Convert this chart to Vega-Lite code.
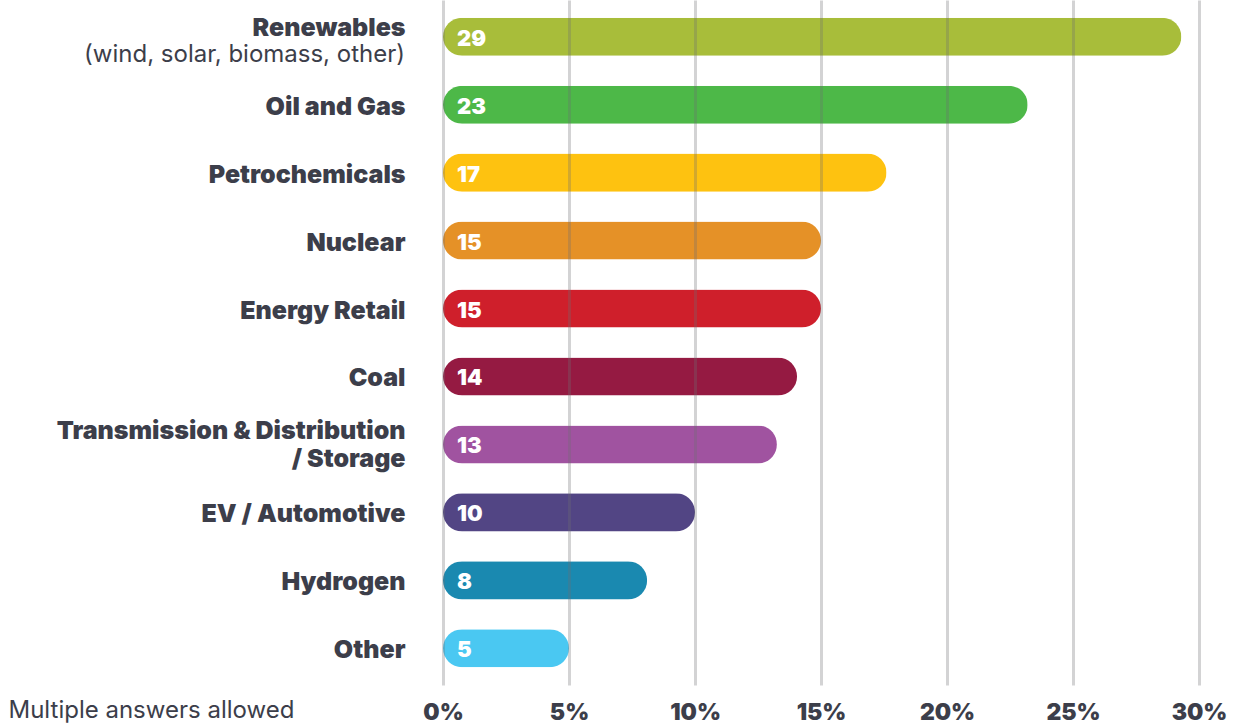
{
  "$schema": "https://vega.github.io/schema/vega-lite/v6.json",
  "width": 756,
  "height": 685,
  "autosize": "none",
  "padding": {"left": 443, "top": 0, "right": 34, "bottom": 40},
  "background": "white",
  "config": {"view": {"stroke": null}, "font": "Inter"},
  "data": {
    "values": [
      {"category": "Renewables", "value": 29.3, "label": "29", "sub": "(wind, solar, biomass, other)"},
      {"category": "Oil and Gas", "value": 23.2, "label": "23", "sub": ""},
      {"category": "Petrochemicals", "value": 17.6, "label": "17", "sub": ""},
      {"category": "Nuclear", "value": 15.0, "label": "15", "sub": ""},
      {"category": "Energy Retail", "value": 15.0, "label": "15", "sub": ""},
      {"category": "Coal", "value": 14.05, "label": "14", "sub": ""},
      {"category": "Transmission & Distribution / Storage", "value": 13.25, "label": "13", "sub": ""},
      {"category": "EV / Automotive", "value": 10.0, "label": "10", "sub": ""},
      {"category": "Hydrogen", "value": 8.1, "label": "8", "sub": ""},
      {"category": "Other", "value": 5.0, "label": "5", "sub": ""}
    ]
  },
  "encoding": {
    "y": {
      "field": "category",
      "type": "nominal",
      "sort": null,
      "scale": {"paddingInner": 0.44, "paddingOuter": 0.26},
      "axis": {
        "title": null,
        "domain": false,
        "ticks": false,
        "grid": false,
        "labelPadding": 38,
        "labelFont": "Inter",
        "labelFontSize": 25,
        "labelFontWeight": 900,
        "labelColor": "#3c3e4a",
        "labelLimit": 600,
        "labelLineHeight": 28,
        "labelOffset": {"condition": [
          {"test": "datum.value == 'Renewables'", "value": -9},
          {"test": "datum.value == 'Transmission & Distribution / Storage'", "value": -13}
        ], "value": 2},
        "labelExpr": "datum.value == 'Transmission & Distribution / Storage' ? ['Transmission & Distribution', '/ Storage'] : datum.value"
      }
    }
  },
  "layer": [
    {
      "mark": {"type": "bar", "cornerRadius": 19},
      "encoding": {
        "x": {
          "field": "value",
          "type": "quantitative",
          "scale": {"domain": [0, 30], "nice": false},
          "axis": {
            "title": "Multiple answers allowed",
            "titleX": -435,
            "titleY": 25,
            "titleAlign": "left",
            "titleAnchor": "start",
            "titleBaseline": "middle",
            "titleFont": "Inter",
            "titleFontSize": 24,
            "titleFontWeight": 400,
            "titleColor": "#3c3e4a",
            "values": [0, 5, 10, 15, 20, 25, 30],
            "labelExpr": "datum.value + '%'",
            "labelFlush": false,
            "labelBaseline": "middle",
            "labelPadding": 27,
            "labelFont": "Inter",
            "labelFontSize": 23,
            "labelFontWeight": 900,
            "labelColor": "#3c3e4a",
            "domain": false,
            "ticks": false,
            "grid": true,
            "gridColor": "#6d6e71",
            "gridOpacity": 0.3,
            "gridWidth": 3,
            "zindex": 1
          }
        },
        "color": {
          "field": "category",
          "type": "nominal",
          "legend": null,
          "scale": {
            "domain": ["Renewables", "Oil and Gas", "Petrochemicals", "Nuclear", "Energy Retail", "Coal", "Transmission & Distribution / Storage", "EV / Automotive", "Hydrogen", "Other"],
            "range": ["#a8bd3a", "#4db848", "#fec210", "#e59127", "#cf1f2b", "#951a42", "#a053a0", "#524584", "#1a89b0", "#4ac8f2"]
          }
        }
      }
    },
    {
      "mark": {"type": "text", "align": "left", "baseline": "middle", "dx": 14, "dy": 2, "color": "white", "font": "Inter", "fontSize": 22, "fontWeight": 900},
      "encoding": {
        "x": {"datum": 0},
        "text": {"field": "label"}
      }
    },
    {
      "transform": [{"filter": "datum.sub != ''"}],
      "mark": {"type": "text", "align": "right", "baseline": "middle", "dx": -38, "dy": 18, "color": "#3c3e4a", "font": "Inter", "fontSize": 24, "fontWeight": 400},
      "encoding": {
        "x": {"datum": 0},
        "text": {"field": "sub"}
      }
    }
  ]
}
